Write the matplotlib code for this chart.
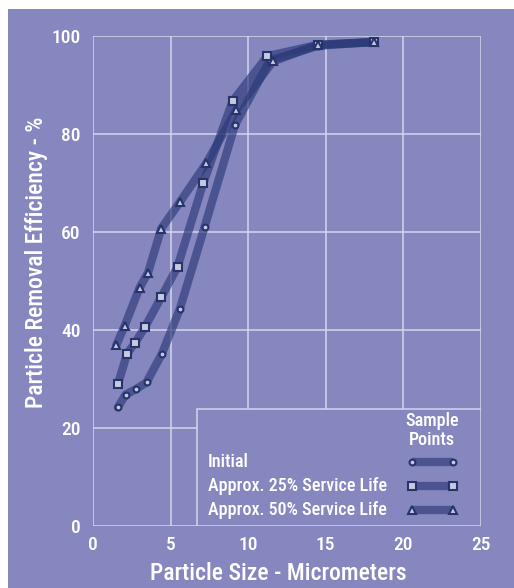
import numpy as np
import matplotlib
matplotlib.use('Agg')
import matplotlib.pyplot as plt
from matplotlib.patches import Rectangle

plt.rcParams['font.family'] = ['Roboto Condensed', 'Liberation Sans Narrow', 'Liberation Sans', 'DejaVu Sans']
plt.rcParams['font.weight'] = 'medium'

# data
initial_x = [1.6, 2.1, 2.75, 3.45, 4.45, 5.6, 7.2, 9.15, 11.4, 14.5, 18.1]
initial_y = [24.2, 26.8, 27.9, 29.3, 35.2, 44.3, 61.1, 81.8, 95.0, 98.0, 98.8]
sl25_x = [1.6, 2.2, 2.7, 3.35, 4.4, 5.45, 7.1, 9.0, 11.25, 14.5, 18.1]
sl25_y = [28.9, 35.2, 37.3, 40.6, 46.7, 52.9, 69.9, 86.7, 95.9, 98.2, 98.8]
sl50_x = [1.5, 2.05, 3.0, 3.55, 4.4, 5.6, 7.3, 9.25, 11.6, 14.5, 18.1]
sl50_y = [36.9, 40.9, 48.6, 51.7, 60.7, 66.1, 74.0, 84.9, 94.8, 98.2, 98.7]

labels = ['Initial', 'Approx. 25% Service Life', 'Approx. 50% Service Life']
markers = ['o', 's', '^']
x_ticks = [0, 5, 10, 15, 20, 25]
y_ticks = [0, 20, 40, 60, 80, 100]

bg = '#8787c0'
grid_c = '#d4d4ec'
line_c = '#2c3a78'
mk_face = '#c8c8e0'
mk_edge = '#27346c'

fig = plt.figure(figsize=(5.14, 5.88), dpi=100, facecolor='white')
# purple panel with thin white strip on top and left
fig.patches.append(Rectangle((8/514, 0), 1, 1 - 9/588, transform=fig.transFigure,
                             facecolor=bg, edgecolor='none', zorder=-10))

ax = fig.add_axes([93/514, 1 - 526/588, 387.7/514, 490/588])
ax.set_facecolor(bg)
for s in ax.spines.values():
    s.set_visible(False)
ax.set_xlim(0, 25)
ax.set_ylim(0, 100)
ax.set_xticks(x_ticks)
ax.set_yticks(y_ticks)
ax.tick_params(length=0, colors='white', labelsize=14)
ax.tick_params(axis='y', pad=9)
ax.tick_params(axis='x', pad=7)
ax.grid(True, color=grid_c, linewidth=1.1)
ax.set_axisbelow(True)

series = [(initial_x, initial_y), (sl25_x, sl25_y), (sl50_x, sl50_y)]
ms = [4.2, 5.2, 5.8]
for (xs, ys), m, size in zip(series, markers, ms):
    ax.plot(xs, ys, color=line_c, alpha=0.66, linewidth=6.0,
            solid_joinstyle='round', solid_capstyle='round', zorder=4)
    ax.plot(xs, ys, linestyle='none', marker=m, markersize=size,
            markerfacecolor=mk_face, markeredgecolor=mk_edge,
            markeredgewidth=1.5, zorder=5, clip_on=False)

# legend box drawn by hand
ax.add_patch(Rectangle((0.2675, 0), 1 - 0.2675, 0.2388, transform=ax.transAxes,
                       facecolor=bg, edgecolor=grid_c, linewidth=1.1, zorder=3))
ax.text(0.8736, 0.2143, 'Sample', transform=ax.transAxes, ha='center', va='center',
        color='white', fontsize=13, zorder=6)
ax.text(0.8736, 0.1755, 'Points', transform=ax.transAxes, ha='center', va='center',
        color='white', fontsize=13, zorder=6)
rows = [0.1306, 0.0816, 0.0327]
for lab, m, size, yy in zip(labels, markers, ms, rows):
    ax.text(0.2966, yy, lab, transform=ax.transAxes, ha='left', va='center',
            color='white', fontsize=13, zorder=6)
    ax.plot([0.8228, 0.9293], [yy, yy], transform=ax.transAxes, color=line_c,
            alpha=0.66, linewidth=6.0, solid_capstyle='butt', zorder=6, clip_on=False)
    ax.plot([0.8228, 0.9293], [yy, yy], transform=ax.transAxes, linestyle='none',
            marker=m, markersize=size, markerfacecolor=mk_face, markeredgecolor=mk_edge,
            markeredgewidth=1.5, zorder=7, clip_on=False)

fig.text(278/514, 1 - 573/588, 'Particle Size - Micrometers', ha='center', va='center',
         color='white', fontsize=17)
fig.text(37/514, 1 - 262/588, 'Particle Removal Efficiency - %', ha='center', va='center',
         rotation=90, color='white', fontsize=17)

fig.savefig('out.png', dpi=100, facecolor=fig.get_facecolor())
